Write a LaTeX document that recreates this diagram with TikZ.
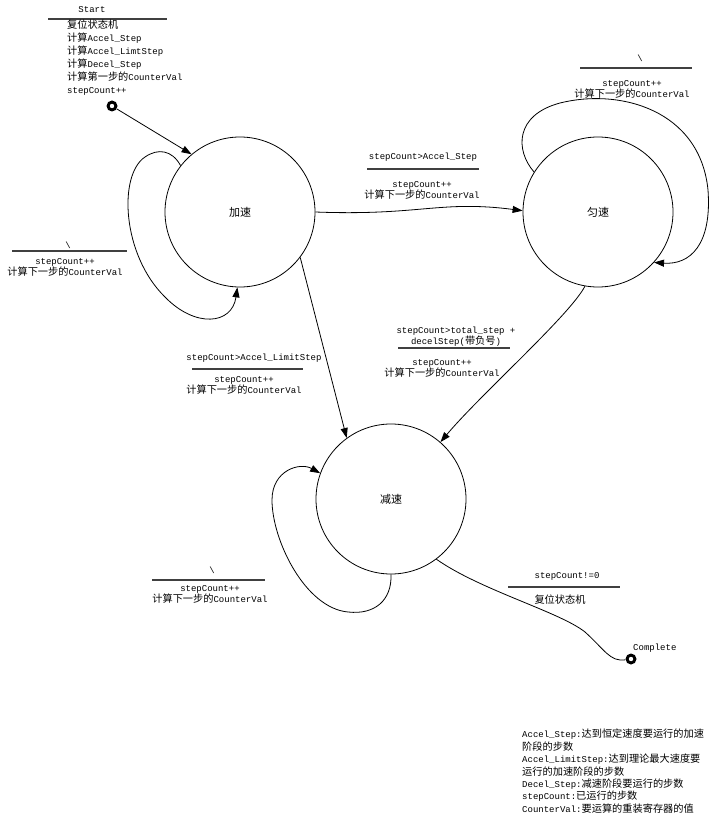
\documentclass[tikz,border=0pt]{standalone}
\usepackage{fontspec}
\setmainfont{Liberation Mono}
\newfontfamily\cjkf{Noto Sans CJK SC}
\usetikzlibrary{arrows.meta}
\newcommand\zh[1]{{\cjkf\fontsize{10.2}{11}\selectfont #1}}
\newcommand\zhbig[1]{{\cjkf\fontsize{11}{12}\selectfont #1}}
\begin{document}
\begin{tikzpicture}[x=1pt,y=-1pt,
  state/.style={circle, draw, line width=0.8pt, minimum size=150pt, inner sep=0pt},
  pdot/.style={circle, fill=black, minimum size=11pt, inner sep=0pt,
    path picture={\fill[white] (path picture bounding box.center) circle (2.2pt);}},
  lbl/.style={inner sep=0pt, align=center, font=\fontsize{9}{11}\selectfont},
  lblleft/.style={inner sep=0pt, align=left, font=\fontsize{9}{13}\selectfont},
  rulel/.style={line width=1.4pt, draw=black!75},
  arr/.style={-{Triangle[length=10pt,width=7pt]}, line width=0.8pt},
  conn/.style={line width=0.8pt}]
\useasboundingbox (0,0) rectangle (714,821);

% states
\node[state] (a) at (240,212) {\zhbig{加速}};
\node[state] (b) at (598,212) {\zhbig{匀速}};
\node[state] (c) at (391,499) {\zhbig{减速}};
\node[pdot] (s) at (112,106) {};
\node[pdot] (e) at (631,659) {};

% start block
\node[lbl] (st) at (92,10) {Start};
\draw[rulel] (48,19) -- (167,19);
\node[lblleft, anchor=north west] (stb) at (67,20) {\zh{复位状态机}\\\zh{计算}Accel\_Step\\\zh{计算}Accel\_LimtStep\\\zh{计算}Decel\_Step\\\zh{计算第一步的}CounterVal\\stepCount++};

% complete
\node[lbl, anchor=west] (cl) at (633,648) {Complete};

% connectors
\draw[arr] (s) -- (a.130);
\draw[arr] (a.142) .. controls (172,150) and (158,148) .. (145,157)
  .. controls (118,175) and (122,255) .. (165,297)
  .. controls (195,328) and (232,325) .. (a.268);
\draw[arr] (b.148) .. controls (515,150) and (515,115) .. (560,103)
  .. controls (620,88) and (700,110) .. (708,190)
  .. controls (712,245) and (690,265) .. (b.318);
\draw[arr] (c.270) .. controls (392,600) and (375,615) .. (348,612)
  .. controls (305,608) and (272,540) .. (272,500)
  .. controls (272,470) and (300,462) .. (c.160);
\draw[arr] (a.0) .. controls (420,216) and (440,200) .. (b.179);
\draw[arr] (a.323) -- (c.126);
\draw[arr] (b.260) .. controls (570,315) and (480,395) .. (c.49);
\draw[conn] (c.307) .. controls (480,590) and (560,612) .. (585,632)
  .. controls (605,650) and (610,662) .. (e);

% loop label on a
\node[lbl] (la1) at (68,245) {\textbackslash};
\draw[rulel] (12,251) -- (127,251);
\node[lbl] (la2) at (65,267) {stepCount++\\\zh{计算下一步的}CounterVal};

% loop label on b
\node[lbl] (lb1) at (640,58) {\textbackslash};
\draw[rulel] (580,68) -- (692,68);
\node[lbl] (lb2) at (632,89) {stepCount++\\\zh{计算下一步的}CounterVal};

% a -> b label
\node[lbl] (lab1) at (423,157) {stepCount>Accel\_Step};
\draw[rulel] (367,169) -- (479,169);
\node[lbl] (lab2) at (422,190) {stepCount++\\\zh{计算下一步的}CounterVal};

% a -> c label
\node[lbl] (lac1) at (254,358) {stepCount>Accel\_LimitStep};
\draw[rulel] (192,369) -- (303,369);
\node[lbl] (lac2) at (244,385) {stepCount++\\\zh{计算下一步的}CounterVal};

% b -> c label
\node[lbl] (lbc1) at (456,337) {stepCount>total\_step +\\decelStep(\zh{带负号})};
\draw[rulel] (398,348) -- (510,348);
\node[lbl] (lbc2) at (442,368) {stepCount++\\\zh{计算下一步的}CounterVal};

% loop label on c
\node[lbl] (lc1) at (212,570) {\textbackslash};
\draw[rulel] (152,580) -- (265,580);
\node[lbl] (lc2) at (210,594) {stepCount++\\\zh{计算下一步的}CounterVal};

% c -> e label
\node[lbl] (lce1) at (567,576) {stepCount!=0};
\draw[rulel] (508,587) -- (620,587);
\node[lbl] (lce2) at (560,600) {\zh{复位状态机}};

% legend
\node[inner sep=0pt, align=left, anchor=north west, font=\fontsize{9}{12.4}\selectfont] (leg) at (522,729)
 {Accel\_Step:\zh{达到恒定速度要运行的加速}\\\zh{阶段的步数}\\Accel\_LimitStep:\zh{达到理论最大速度要}\\\zh{运行的加速阶段的步数}\\Decel\_Step:\zh{减速阶段要运行的步数}\\stepCount:\zh{已运行的步数}\\CounterVal:\zh{要运算的重装寄存器的值}};
\end{tikzpicture}
\end{document}
